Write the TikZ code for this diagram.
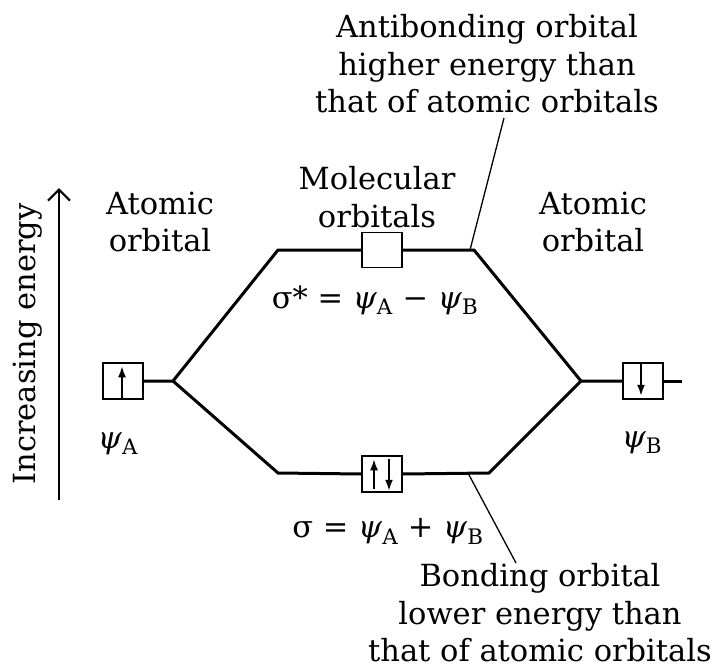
\documentclass[tikz,border=0pt]{standalone}
\usepackage{fontspec}
\setmainfont{DejaVu Serif}
\usetikzlibrary{arrows.meta,calc}
\tikzset{
  orb/.style={draw, line width=1.5pt, minimum width=40pt, minimum height=36pt, inner sep=0pt, fill=white},
  level/.style={line width=3pt, line join=miter},
  elec/.style={line width=1.8pt, -{Latex[length=11pt,width=8pt]}},
  pointer/.style={line width=1.3pt},
  lbl/.style={font=\fontsize{30.5}{37.5}\selectfont, align=center, inner sep=0pt},
}
\newcommand{\psiA}{\textit{ψ}\textsubscript{A}}
\newcommand{\psiB}{\textit{ψ}\textsubscript{B}}
\begin{document}
\begin{tikzpicture}[x=1pt,y=-1pt]
\useasboundingbox (0,0) rectangle (718,672);
% energy axis
\coordinate (e0) at (59,500);
\coordinate (e1) at (59,188);
\draw[line width=2.2pt, -{Straight Barb[length=11pt,width=22pt,line width=2.2pt]}] (e0) -- (e1);
\node[lbl, rotate=90] (energy) at (28,344) {Increasing energy};
% junction points
\coordinate (lstart) at (102,381);
\coordinate (rend) at (682,381);
\coordinate (jL) at (173,381);
\coordinate (jR) at (581,381);
\coordinate (tL) at (278,250);
\coordinate (tR) at (474,250);
\coordinate (bL) at (278,473);
\coordinate (bR) at (489,473);
% boxes
\node[orb] (LA) at (123,381) {};
\node[orb] (RB) at (643,381) {};
\node[orb, minimum height=35pt] (MU) at (382,250) {};
\node[orb] (MD) at (382,474) {};
% levels
\draw[level] (lstart) -- (LA.west);
\draw[level] (LA.east) -- (jL) -- (tL) -- (MU.west);
\draw[level] (MU.east) -- (tR) -- (jR) -- (RB.west);
\draw[level] (RB.east) -- (rend);
\draw[level] (jL) -- (bL) -- (MD.west);
\draw[level] (MD.east) -- (bR) -- (jR);
% electrons
\draw[elec] ([xshift=-1pt]LA.south) -- ([xshift=-1pt,yshift=-4pt]LA.north);
\draw[elec] ([xshift=-2pt]RB.north) -- ([xshift=-2pt,yshift=4pt]RB.south);
\draw[elec] ([xshift=-8pt,yshift=4pt]MD.south) -- ([xshift=-8pt,yshift=-4pt]MD.north);
\draw[elec] ([xshift=7pt,yshift=-4pt]MD.north) -- ([xshift=7pt,yshift=2pt]MD.south);
% pointers
\coordinate (ap0) at (470,250);
\coordinate (ap1) at (504,118);
\coordinate (bp0) at (468,473);
\coordinate (bp1) at (516,563);
\draw[pointer] (ap0) -- (ap1);
\draw[pointer] (bp0) -- (bp1);
% labels
\node[lbl] (anti) at (487,64) {Antibonding orbital\\higher energy than\\that of atomic orbitals};
\node[lbl] (bond) at (540,613) {Bonding orbital\\lower energy than\\that of atomic orbitals};
\node[lbl] (atL) at (160,222) {Atomic\\orbital};
\node[lbl] (atR) at (593,222) {Atomic\\orbital};
\node[lbl] (mol) at (377,197) {Molecular\\orbitals};
\node[lbl, anchor=base] (sstar) at (375,308) {σ* = \psiA\ − \psiB};
\node[lbl, anchor=base] (sig) at (388,537) {σ = \psiA\ + \psiB};
\node[lbl, anchor=base] (pA) at (118,448) {\psiA};
\node[lbl, anchor=base] (pB) at (642,447) {\psiB};
\end{tikzpicture}
\end{document}
